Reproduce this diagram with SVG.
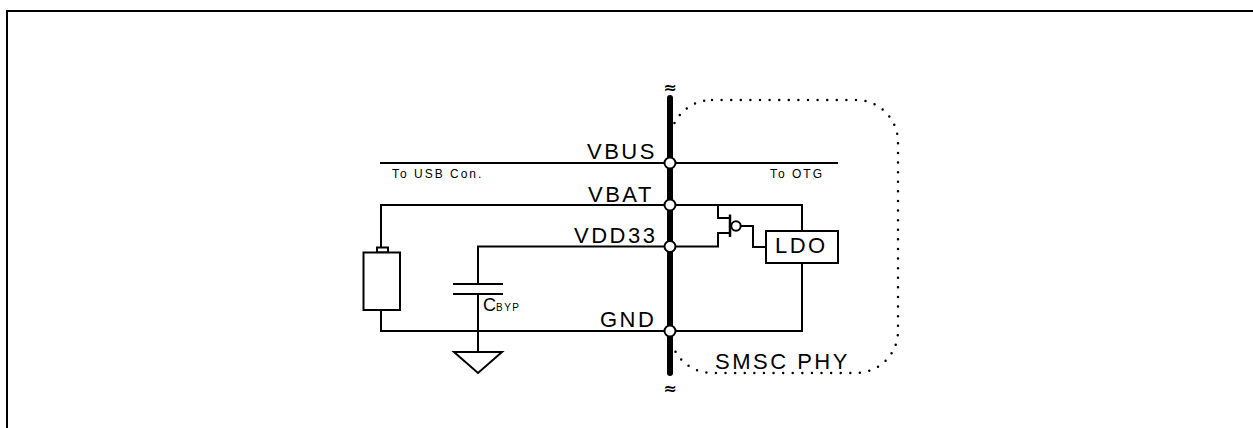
<svg xmlns="http://www.w3.org/2000/svg" width="1253" height="428" viewBox="0 0 1253 428">
<style>
.w{fill:none;stroke:#000;stroke-width:2;stroke-linecap:square}
.big{font-family:"Liberation Sans",Arial,sans-serif;font-size:22px;letter-spacing:2.5px;fill:#000}
.sm{font-family:"Liberation Sans",Arial,sans-serif;font-size:12px;letter-spacing:2px;fill:#000}
.pin{fill:#fff;stroke:#000;stroke-width:2}
.apx{font-family:"DejaVu Sans",sans-serif;font-size:16px;font-weight:bold;fill:#000;text-anchor:middle}
</style>
<rect width="1253" height="428" fill="#fff"/>
<rect x="7" y="11" width="1400" height="600" fill="none" stroke="#000" stroke-width="2"/>

<g id="phy-boundary">
<rect x="670" y="100" width="228" height="273" rx="42" ry="42" fill="none" stroke="#000" stroke-width="2.5" stroke-linecap="round" stroke-dasharray="0 9.6"/>
<text class="big" x="715" y="369">SMSC PHY</text>
</g>

<g id="connectors">
<line class="w" x1="381" y1="163" x2="837" y2="163"/>
<polyline class="w" points="381,248 381,205 802,205 802,231"/>
<polyline class="w" points="478,284 478,246.5 718,246.5 718,233 730,233"/>
<polyline class="w" points="718,205 718,218 730,218"/>
<line x1="730" y1="214.5" x2="730" y2="237" stroke="#000" stroke-width="2.5"/>
<polyline class="w" points="741,226 753,226 753,247 766,247"/>
<polyline class="w" points="381,310 381,331 802,331 802,263"/>
<line class="w" x1="478" y1="294" x2="478" y2="352"/>
</g>

<g id="bus">
<line x1="670" y1="98" x2="670" y2="373" stroke="#000" stroke-width="6" stroke-linecap="round"/>
<text class="apx" x="670" y="93">≈</text>
<text class="apx" x="670" y="394">≈</text>
</g>

<g id="vbus">
<circle class="pin" cx="670" cy="163" r="5.5"/>
<text class="big" x="587" y="159">VBUS</text>
<text class="sm" x="392" y="178">To USB Con.</text>
<text class="sm" x="770" y="178">To OTG</text>
</g>

<g id="vbat">
<circle class="pin" cx="670" cy="205" r="5.5"/>
<text class="big" x="588" y="202">VBAT</text>
</g>

<g id="vdd33">
<circle class="pin" cx="670" cy="246.5" r="5.5"/>
<text class="big" x="574" y="243">VDD33</text>
</g>

<g id="gnd">
<circle class="pin" cx="670" cy="331" r="5.5"/>
<text class="big" x="600" y="327">GND</text>
</g>

<g id="transistor">
<circle cx="736" cy="226" r="4.7" fill="#fff" stroke="#000" stroke-width="2"/>
</g>

<g id="ldo">
<rect x="766" y="231" width="72" height="32" fill="#fff" stroke="#000" stroke-width="2"/>
<text class="big" x="775" y="253">LDO</text>
</g>

<g id="battery">
<rect x="377" y="247.5" width="11" height="5" fill="#fff" stroke="#000" stroke-width="2"/>
<rect x="363.5" y="252.5" width="36.5" height="57.5" fill="#fff" stroke="#000" stroke-width="2"/>
</g>

<g id="cbyp">
<line class="w" x1="454" y1="284" x2="502" y2="284"/>
<line class="w" x1="454" y1="294" x2="502" y2="294"/>
<text font-family="Liberation Sans, Arial, sans-serif" font-size="18" x="483" y="311" fill="#000">C<tspan font-size="10" letter-spacing="1.5">BYP</tspan></text>
</g>

<g id="ground">
<polygon points="454,352 502,352 478,373" fill="#fff" stroke="#000" stroke-width="2"/>
</g>
</svg>
